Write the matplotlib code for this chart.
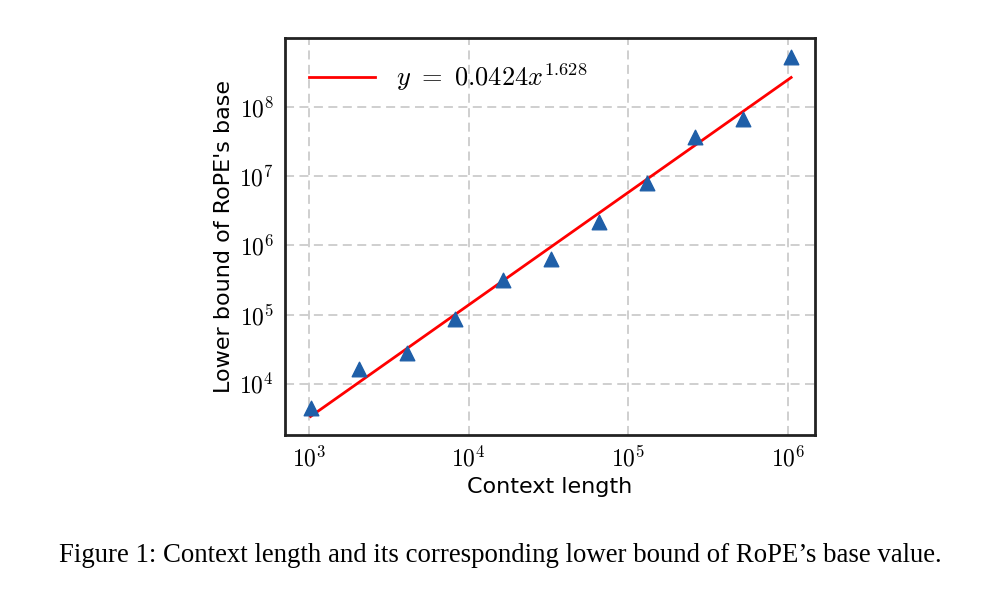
import numpy as np
import matplotlib
matplotlib.use("Agg")
import matplotlib.pyplot as plt
from matplotlib.ticker import FuncFormatter

plt.rcParams["mathtext.fontset"] = "cm"

# data
ctx_len = [2**k for k in range(10, 21)]
base_lb = [4.4e3, 1.65e4, 2.8e4, 8.7e4, 3.2e5, 6.4e5, 2.2e6, 8.0e6, 3.7e7, 6.7e7, 5.3e8]
fit_a, fit_b = 0.0424, 1.628

fig = plt.figure(figsize=(10.01, 5.89), dpi=100)
ax = fig.add_axes([285 / 1001, 1 - 435 / 589, 530 / 1001, 397 / 589])

xs = np.array([ctx_len[0], ctx_len[-1]], dtype=float)
ax.plot(xs, fit_a * xs**fit_b, color="red", lw=2,
        label=r"$y\ =\ 0.0424x^{1.628}$", zorder=3)
ax.scatter(ctx_len, base_lb, marker="^", s=110, color="#1f5fa8", zorder=4)

ax.set_xscale("log")
ax.set_yscale("log")
ax.set_xlim(10**2.85, 10**6.17)
ax.set_ylim(10**3.26, 10**9.0)
ax.set_xticks([1e3, 1e4, 1e5, 1e6])
ax.set_yticks([1e4, 1e5, 1e6, 1e7, 1e8])
ax.minorticks_off()
fmt = FuncFormatter(lambda v, p: r"$10^{%d}$" % round(np.log10(v)))
ax.xaxis.set_major_formatter(fmt)
ax.yaxis.set_major_formatter(fmt)
ax.tick_params(labelsize=17, length=0, pad=8)
ax.grid(True, ls="--", color="#cccccc", lw=1.3, dashes=(5, 3))
for s in ax.spines.values():
    s.set_color("#222222")
    s.set_linewidth(2)

ax.set_xlabel("Context length", fontsize=16)
ax.set_ylabel("Lower bound of RoPE's base", fontsize=16)
ax.legend(loc="upper left", fontsize=19, frameon=False, handlelength=2.5)

fig.text(0.5, 1 - 555 / 589,
         "Figure 1: Context length and its corresponding lower bound of RoPE\u2019s base value.",
         ha="center", va="center", fontsize=19.3, family="Liberation Serif")

fig.savefig("out.png", dpi=100)
